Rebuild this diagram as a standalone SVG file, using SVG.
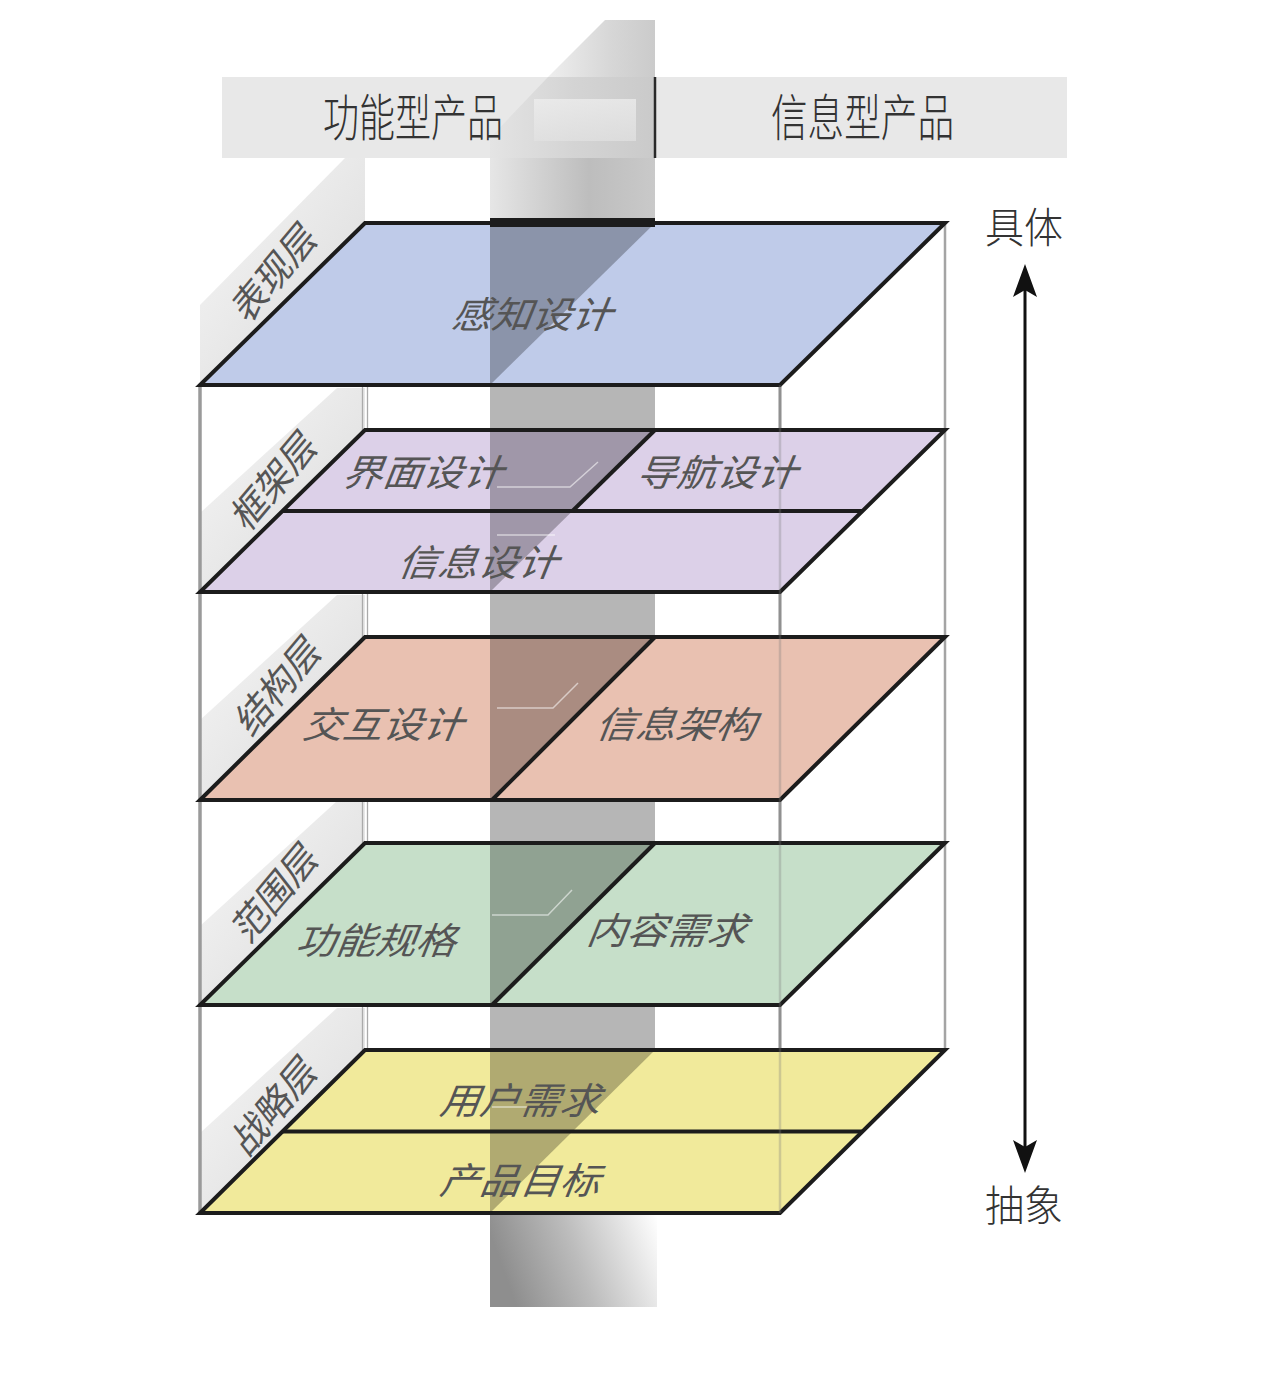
<svg xmlns="http://www.w3.org/2000/svg" width="1286" height="1374" viewBox="0 0 1286 1374">
<defs>
<linearGradient id="wallG" x1="0" y1="0" x2="0.7" y2="0.7"><stop offset="0" stop-color="#f7f7f7"/><stop offset="1" stop-color="#e2e2e2"/></linearGradient>
<linearGradient id="topG" x1="0" y1="0" x2="1" y2="0"><stop offset="0" stop-color="#eeeeee"/><stop offset="0.6" stop-color="#d6d6d6"/><stop offset="1" stop-color="#cbcbcb"/></linearGradient>
<linearGradient id="hdrG" x1="0" y1="0" x2="1" y2="0"><stop offset="0" stop-color="#e4e4e4"/><stop offset="0.5" stop-color="#d4d4d4"/><stop offset="1" stop-color="#cacaca"/></linearGradient>
<linearGradient id="inG" x1="0" y1="0" x2="0" y2="1"><stop offset="0" stop-color="#f0f0f0"/><stop offset="1" stop-color="#e2e2e2"/></linearGradient>
<linearGradient id="neckG" x1="0" y1="0" x2="1" y2="0"><stop offset="0" stop-color="#e6e6e6"/><stop offset="0.6" stop-color="#bdbdbd"/><stop offset="1" stop-color="#c9c9c9"/></linearGradient>
<linearGradient id="botG" x1="0" y1="0.2" x2="1" y2="0"><stop offset="0" stop-color="#8e8e8e"/><stop offset="0.45" stop-color="#bcbcbc"/><stop offset="1" stop-color="#ffffff"/></linearGradient>
<style>
.pl{stroke:none}
.ol{fill:none;stroke:#1c1c1c;stroke-width:4;stroke-linejoin:miter}
.dv{stroke:#1c1c1c;stroke-width:4}
.sh{fill:#000;fill-opacity:0.27}
.wall{fill:url(#wallG)}
.lab{font-family:"Noto Sans CJK SC","Noto Sans",sans-serif;font-size:37px;fill:#555;text-anchor:middle;dominant-baseline:central}
.pt{font-family:"Noto Sans CJK SC","Noto Sans",sans-serif;font-size:40px;fill:#555;text-anchor:middle;dominant-baseline:central}
.hd{font-family:"Noto Sans CJK SC","Noto Sans",sans-serif;font-size:50px;fill:#333;font-weight:300}
.side{font-family:"Noto Sans CJK SC","Noto Sans",sans-serif;font-size:42px;fill:#333;font-weight:300}
.vl{stroke:#9a9a9a}
.faint{stroke:#ffffff;stroke-opacity:0.55;stroke-width:1.5;fill:none}
.ah{fill:#111}
</style>
</defs>
<rect width="1286" height="1374" fill="#ffffff"/>

<!-- header -->
<g id="header">
<rect x="222" y="77" width="845" height="81" fill="#e8e8e8"/>
</g>

<!-- central shaft -->
<g id="shaft">
<polygon points="605,20 655,20 655,77 548,77" fill="url(#topG)"/>
<polygon points="548,77 655,77 655,158 490,158 490,138" fill="url(#hdrG)"/>
<rect x="534" y="99" width="102" height="42" fill="url(#inG)" opacity="0.7"/>
<rect x="490" y="158" width="165" height="65" fill="url(#neckG)"/>
<rect x="490" y="223" width="165" height="992" fill="#b6b6b6"/>
<rect x="490" y="1215" width="167" height="92" fill="url(#botG)"/>
</g>
<line x1="655" y1="77" x2="655" y2="158" stroke="#2a2a2a" stroke-width="2.5"/>
<text class="hd" x="323" y="136" textLength="180" lengthAdjust="spacingAndGlyphs">功能型产品</text>
<text class="hd" x="771" y="136" textLength="183" lengthAdjust="spacingAndGlyphs">信息型产品</text>

<!-- side walls -->
<g id="walls">
<polygon class="wall" points="345,158 365,158 365,223 200,385 200,305"/>
<polygon class="wall" points="337,388 365,388 365,430 200,592 200,513"/>
<polygon class="wall" points="337,595 365,595 365,637 200,800 200,720"/>
<polygon class="wall" points="337,801 365,801 365,843 200,1005 200,926"/>
<polygon class="wall" points="337,1008 365,1008 365,1050 200,1213 200,1133"/>
</g>

<!-- frame lines -->
<g id="frame">
<line class="vl" x1="200" y1="385" x2="200" y2="1213" stroke-width="3.5"/>
<line class="vl" x1="780" y1="385" x2="780" y2="1213" stroke-width="3"/>
<line x1="945" y1="223" x2="945" y2="1050" stroke="#a4a4a4" stroke-width="2.5"/>
<line x1="362.5" y1="385" x2="362.5" y2="1050" stroke="#aaaaaa" stroke-width="1.3"/>
<line x1="367.5" y1="385" x2="367.5" y2="1050" stroke="#aaaaaa" stroke-width="1.3"/>
</g>

<!-- layer 1: 表现层 -->
<g id="layer-surface">
<polygon class="pl" points="365,223 945,223 780,385 200,385" fill="#bfcbe9"/>
<polygon class="sh" points="490,223 655,223 490,385"/>
<rect x="490" y="218" width="165" height="9" fill="#1c1c1c"/>
<polygon class="ol" points="365,223 945,223 780,385 200,385"/>
<text class="pt" transform="translate(537,312) skewX(-22) scale(1,0.92)">感知设计</text>
</g>

<!-- layer 2: 框架层 -->
<g id="layer-skeleton">
<polygon class="pl" points="365,430 945,430 780,592 200,592" fill="#dcd0e8"/>
<polygon class="sh" points="490,430 655,430 490,592"/>
<line class="dv" x1="282.5" y1="511" x2="862.5" y2="511"/>
<line class="dv" x1="655" y1="430" x2="572.5" y2="511"/>
<polygon class="ol" points="365,430 945,430 780,592 200,592"/>
<polyline class="faint" points="497,487 570,487 598,462"/>
<polyline class="faint" points="497,535 555,535"/>
<text class="pt" transform="translate(428,470) skewX(-22) scale(1,0.92)">界面设计</text>
<text class="pt" transform="translate(722,470) skewX(-22) scale(1,0.92)">导航设计</text>
<text class="pt" transform="translate(483,560) skewX(-22) scale(1,0.92)">信息设计</text>
</g>

<!-- layer 3: 结构层 -->
<g id="layer-structure">
<polygon class="pl" points="365,637 945,637 780,800 200,800" fill="#e9c1b1"/>
<polygon class="sh" points="490,637 655,637 490,800"/>
<line class="dv" x1="655" y1="637" x2="492" y2="800"/>
<polygon class="ol" points="365,637 945,637 780,800 200,800"/>
<polyline class="faint" points="497,708 553,708 578,683"/>
<text class="pt" transform="translate(388,722) skewX(-22) scale(1,0.92)">交互设计</text>
<text class="pt" transform="translate(681,722) skewX(-22) scale(1,0.92)">信息架构</text>
</g>

<!-- layer 4: 范围层 -->
<g id="layer-scope">
<polygon class="pl" points="365,843 945,843 780,1005 200,1005" fill="#c6dfc9"/>
<polygon class="sh" points="490,843 655,843 490,1005"/>
<line class="dv" x1="655" y1="843" x2="492" y2="1005"/>
<polygon class="ol" points="365,843 945,843 780,1005 200,1005"/>
<polyline class="faint" points="492,915 548,915 572,890"/>
<text class="pt" transform="translate(381,938) skewX(-22) scale(1,0.92)">功能规格</text>
<text class="pt" transform="translate(672,928) skewX(-22) scale(1,0.92)">内容需求</text>
</g>

<!-- layer 5: 战略层 -->
<g id="layer-strategy">
<polygon class="pl" points="365,1050 945,1050 780,1213 200,1213" fill="#f1ea9b"/>
<polygon class="sh" points="490,1050 655,1050 490,1213"/>
<line class="dv" x1="282.5" y1="1131.5" x2="862.5" y2="1131.5"/>
<polygon class="ol" points="365,1050 945,1050 780,1213 200,1213"/>
<polyline class="faint" points="492,1107 545,1107"/>
<text class="pt" transform="translate(525,1098) skewX(-22) scale(1,0.92)">用户需求</text>
<text class="pt" transform="translate(525,1178) skewX(-22) scale(1,0.92)">产品目标</text>
</g>

<!-- faint back edge seen through planes -->
<line x1="780" y1="385" x2="780" y2="1213" stroke="#7a7a7a" stroke-opacity="0.3" stroke-width="2.5"/>

<!-- layer names on the side wall -->
<g id="layer-names">
<text class="lab" transform="translate(273,270) rotate(-50) skewX(-12)">表现层</text>
<text class="lab" transform="translate(273,478) rotate(-50) skewX(-12)">框架层</text>
<text class="lab" transform="translate(277,683) rotate(-50) skewX(-12)">结构层</text>
<text class="lab" transform="translate(274,890) rotate(-50) skewX(-12)">范围层</text>
<text class="lab" transform="translate(273,1103) rotate(-50) skewX(-12)">战略层</text>
</g>

<!-- axis -->
<g id="connectors">
<line x1="1025" y1="288" x2="1025" y2="1150" stroke="#111" stroke-width="3"/>
<path class="ah" d="M1025,264 L1037,297 L1025,290 L1013,297 Z"/>
<path class="ah" d="M1025,1173 L1037,1140 L1025,1147 L1013,1140 Z"/>
</g>
<g id="axis-labels">
<text class="side" x="985" y="243" textLength="78" lengthAdjust="spacingAndGlyphs">具体</text>
<text class="side" x="985" y="1221" textLength="78" lengthAdjust="spacingAndGlyphs">抽象</text>
</g>
</svg>
